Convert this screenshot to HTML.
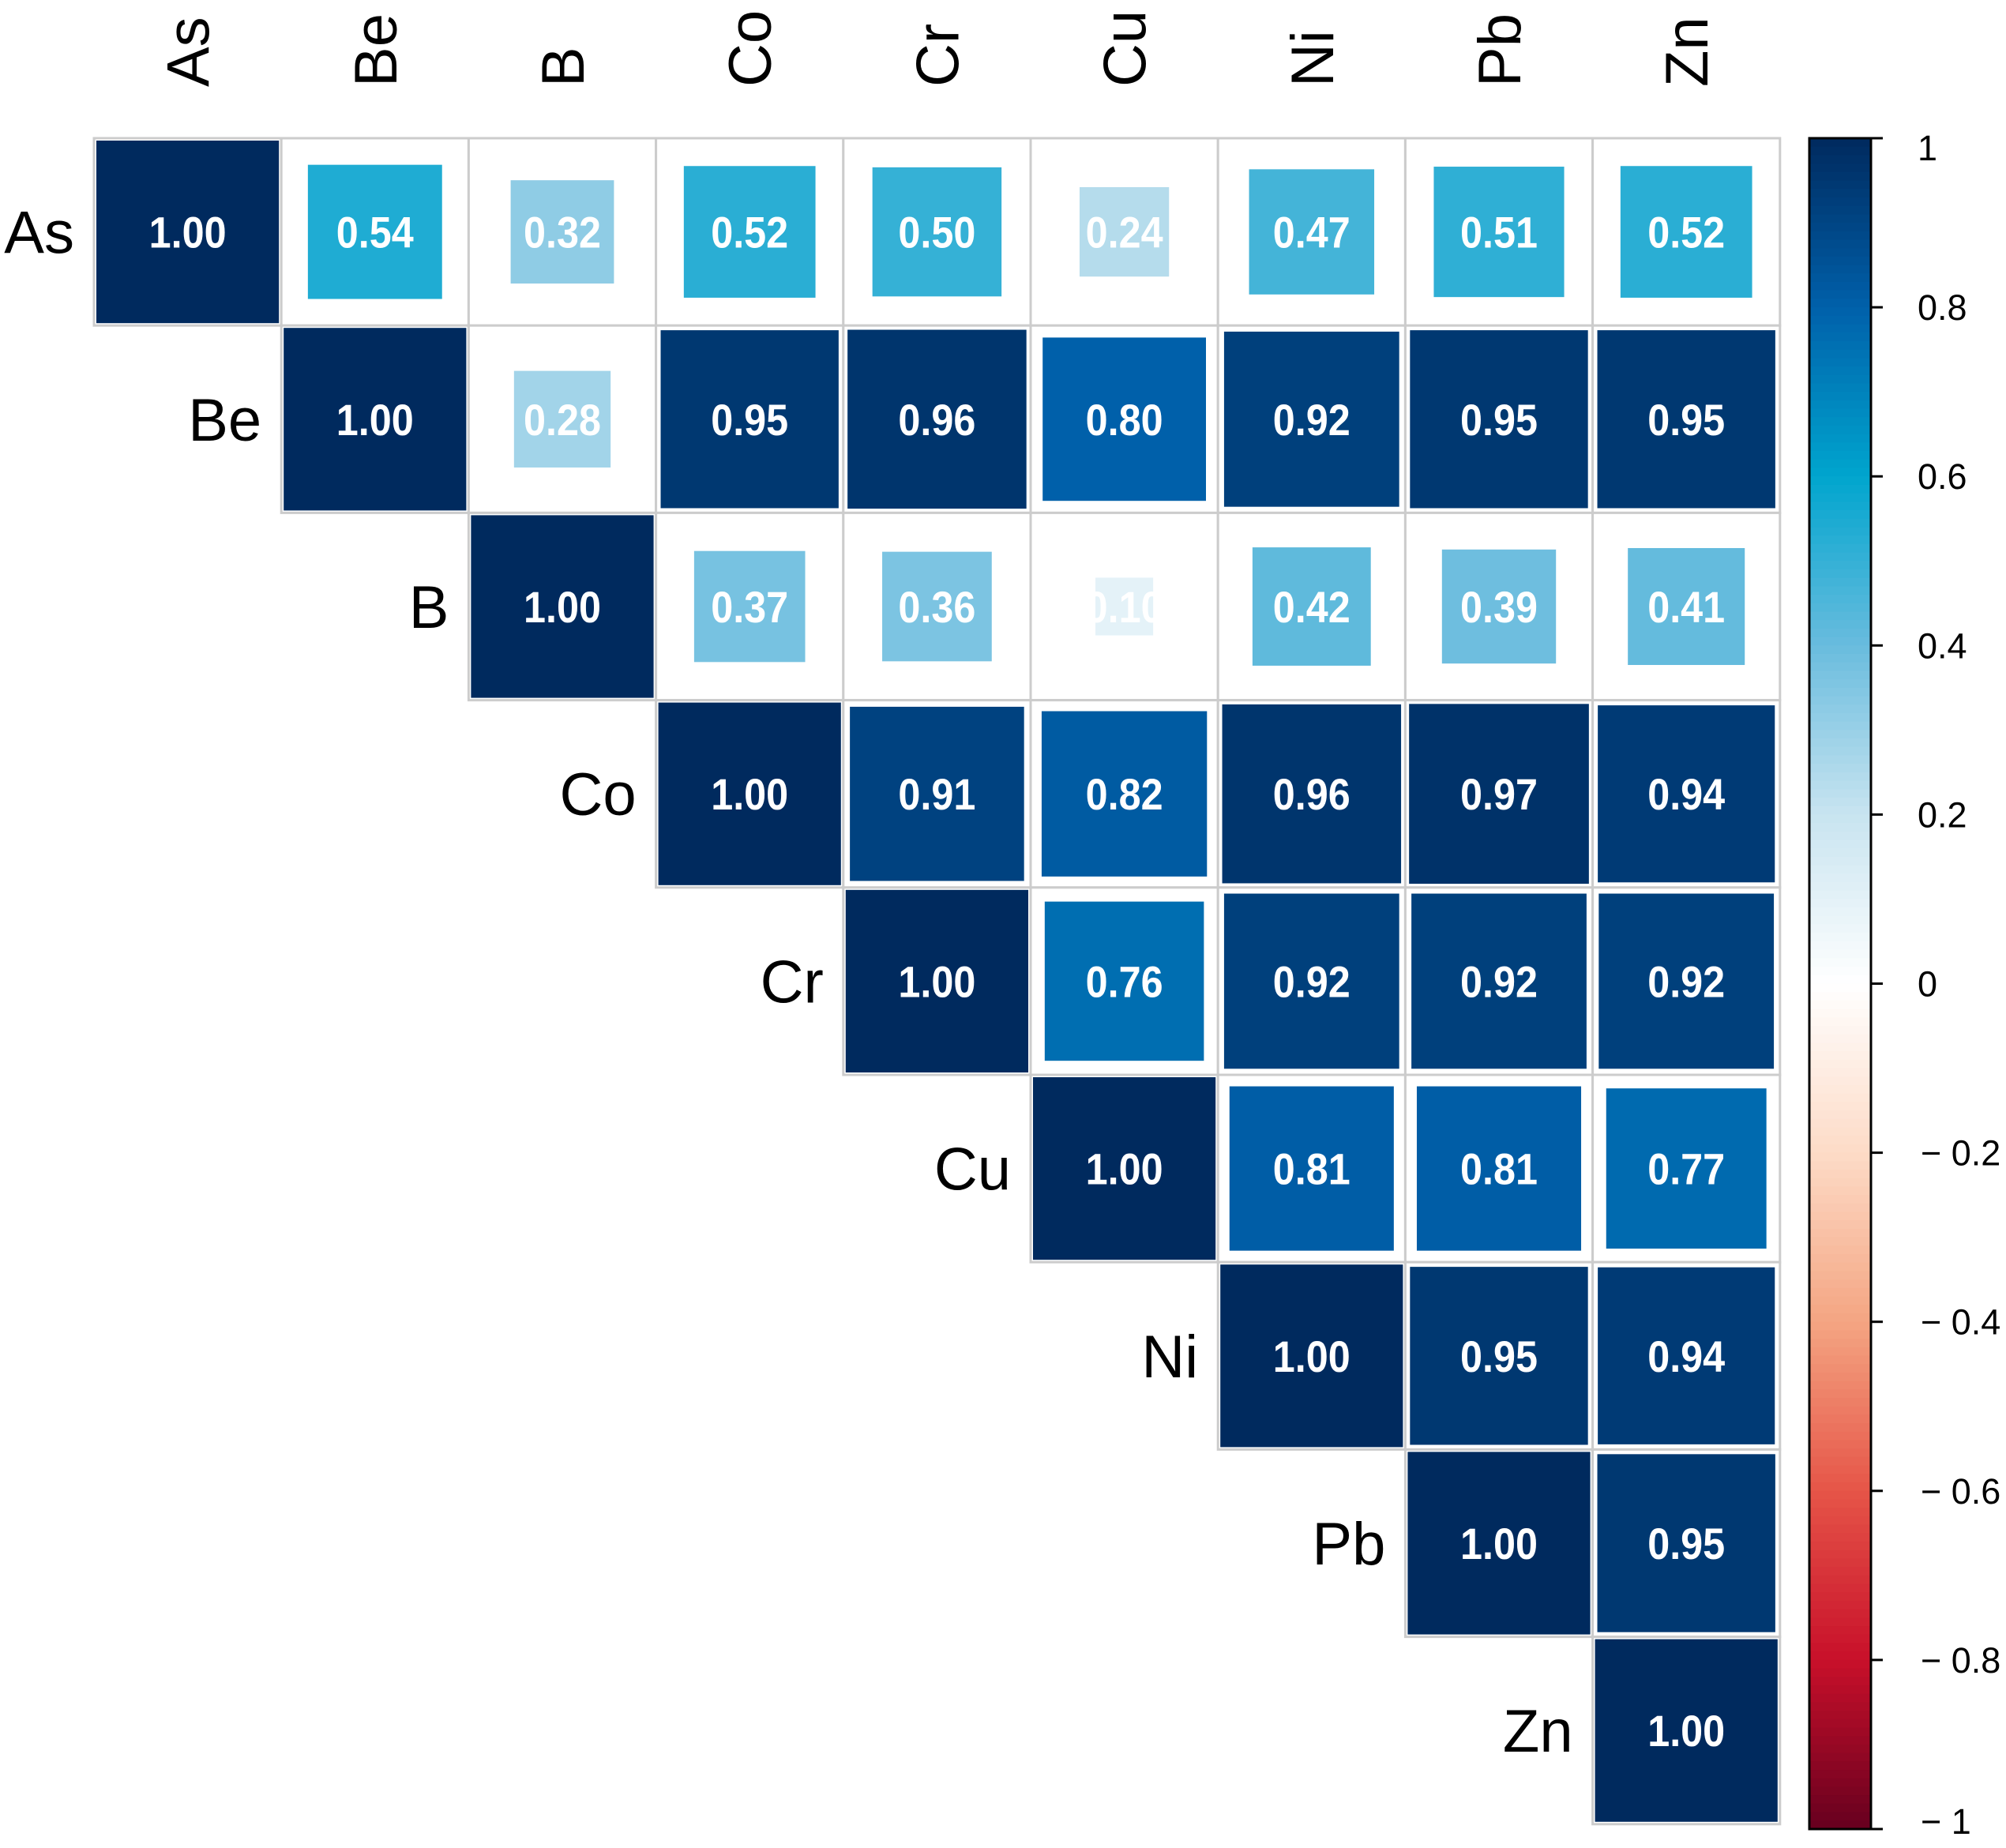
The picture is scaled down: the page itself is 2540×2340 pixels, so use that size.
<!DOCTYPE html>
<html><head><meta charset="utf-8"><style>
html,body{margin:0;padding:0;background:#fff;}
svg{display:block;font-family:"Liberation Sans",Arial,sans-serif;}
</style></head>
<body>
<svg id="chart" width="2540" height="2340" viewBox="0 0 2540 2340" xmlns="http://www.w3.org/2000/svg">
<rect width="2540" height="2340" fill="#fff"/>
<g id="cells"></g><g id="labels"></g><g id="cbar"></g>
</svg>
<script>
const vars = ["As","Be","B","Co","Cr","Cu","Ni","Pb","Zn"];
const rowAs = [1.00,0.54,0.32,0.52,0.50,0.24,0.47,0.51,0.52];
const rowBe = [1.00,0.28,0.95,0.96,0.80,0.92,0.95,0.95];
const rowB  = [1.00,0.37,0.36,0.10,0.42,0.39,0.41];
const rowCo = [1.00,0.91,0.82,0.96,0.97,0.94];
const rowCr = [1.00,0.76,0.92,0.92,0.92];
const rowCu = [1.00,0.81,0.81,0.77];
const rowNi = [1.00,0.95,0.94];
const rowPb = [1.00,0.95];
const rowZn = [1.00];
const rows = [rowAs,rowBe,rowB,rowCo,rowCr,rowCu,rowNi,rowPb,rowZn];
const cbTicks = [1,0.8,0.6,0.4,0.2,0,-0.2,-0.4,-0.6,-0.8,-1];
const cbLabels = ["1","0.8","0.6","0.4","0.2","0","\u2212 0.2","\u2212 0.4","\u2212 0.6","\u2212 0.8","\u2212 1"];

const NS="http://www.w3.org/2000/svg";
const gx0=119, gy0=175, cs=237.2;
const colX=i=>gx0+i*cs, rowY=i=>gy0+i*cs;
const cbX=2291, cbW=78, cbTop=175, cbBot=2316;
const cbY=v=>cbTop+(1-v)/2*(cbBot-cbTop);
const stops=[[-1,[103,0,31]],[-0.8,[200,16,42]],[-0.6,[230,85,72]],[-0.4,[244,165,130]],[-0.2,[253,219,199]],[0,[255,255,255]],[0.2,[200,228,240]],[0.4,[105,188,222]],[0.6,[0,165,206]],[0.8,[0,96,170]],[1,[0,42,94]]];
function color(v){
  for(let i=0;i<stops.length-1;i++){
    const [a,ca]=stops[i],[b,cb]=stops[i+1];
    if(v>=a&&v<=b){const t=(v-a)/(b-a);
      return "rgb("+ca.map((c,k)=>Math.round(c+(cb[k]-c)*t)).join(",")+")";}
  }
  return "rgb(0,42,94)";
}
function mk(tag,attrs,parent){const e=document.createElementNS(NS,tag);for(const k in attrs)e.setAttribute(k,attrs[k]);parent.appendChild(e);return e;}
const cells=document.getElementById("cells"), labels=document.getElementById("labels"), cbar=document.getElementById("cbar");

rows.forEach((row,i)=>{
  row.forEach((v,k)=>{
    const j=i+k;
    const x=colX(j), y=rowY(i);
    const bg=mk("rect",{x:x,y:y,width:cs,height:cs,fill:"#fff",stroke:"#cccccc","stroke-width":3},cells);
    
    
    const s=Math.sqrt(Math.abs(v))*(cs-6);
    const sq=mk("rect",{x:x+cs/2-s/2,y:y+cs/2-s/2,width:s,height:s,fill:color(v)},cells);
    
    
    const t=mk("text",{x:x+cs/2,y:y+cs/2+20,"text-anchor":"middle","font-size":56,"font-weight":"bold",fill:"#fff",textLength:98,lengthAdjust:"spacingAndGlyphs"},cells);
    t.textContent=v.toFixed(2);
    
    
  });
});
vars.forEach((n,i)=>{
  const r=mk("text",{x:colX(i)-25,y:rowY(i)+cs/2+27,"text-anchor":"end","font-size":76,fill:"#000"},labels);
  r.textContent=n;
  
  
  const cx=colX(i)+cs/2+27, cy=110;
  const c=mk("text",{x:cx,y:cy,"text-anchor":"start","font-size":76,fill:"#000",transform:"rotate(-90 "+cx+" "+cy+")"},labels);
  c.textContent=n;
  
  
});
const N=200;
for(let k=0;k<N;k++){
  const v1=1-2*k/N, v2=1-2*(k+1)/N;
  const r=mk("rect",{x:cbX,y:cbY(v1),width:cbW,height:cbY(v2)-cbY(v1)+0.8,fill:color((v1+v2)/2)},cbar);
  
  
}
const fr=mk("rect",{x:cbX,y:cbTop,width:cbW,height:cbBot-cbTop,fill:"none",stroke:"#000","stroke-width":3},cbar);


cbTicks.forEach((v,k)=>{
  const y=cbY(v);
  const tk=mk("line",{x1:cbX+cbW,x2:2384,y1:y,y2:y,stroke:"#000","stroke-width":3},cbar);
  
  
  const lbl=mk("text",{x:v<0?2432:2428,y:y+16+(k==0?12:0)+(k==cbTicks.length-1?-10:0),"font-size":45,fill:"#000"},cbar);
  lbl.textContent=cbLabels[k];
  
  
});
</script>
</body></html>
